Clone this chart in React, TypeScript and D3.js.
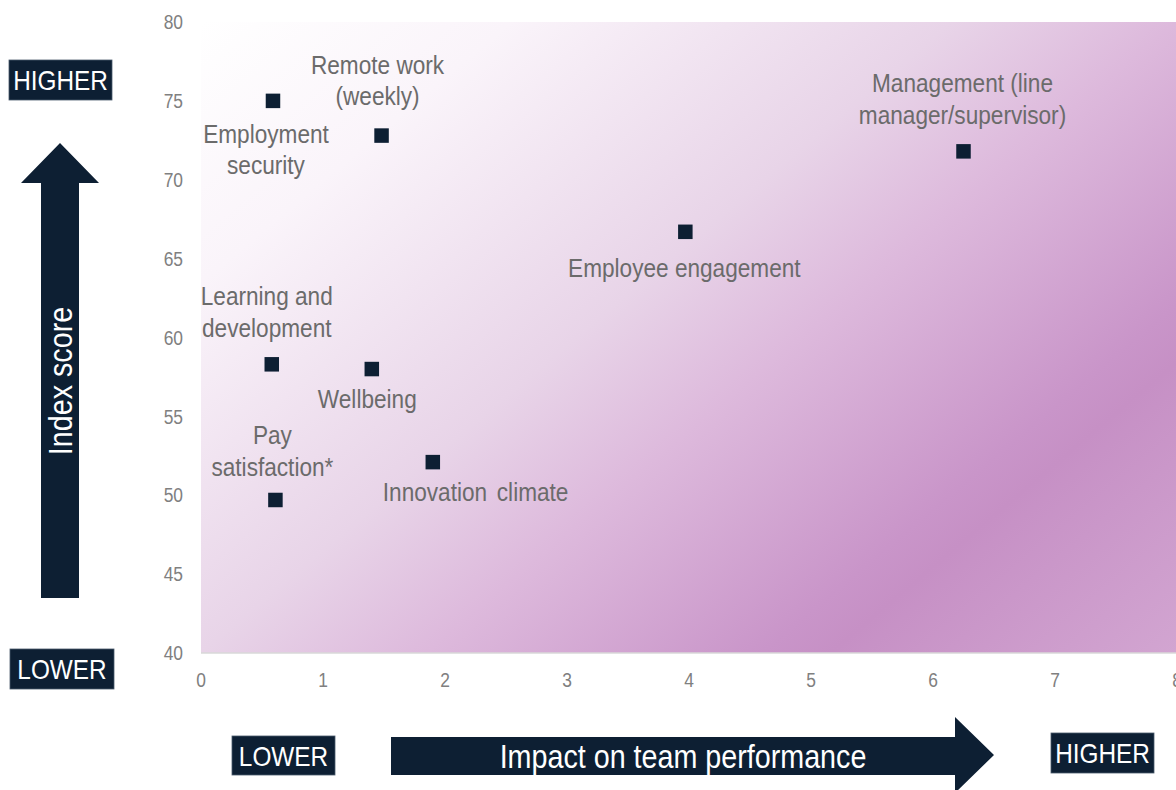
import React from 'react';
import * as d3 from 'd3';

// ---------- data ----------
const xTicks = [0, 1, 2, 3, 4, 5, 6, 7, 8];
const yTicks = [40, 45, 50, 55, 60, 65, 70, 75, 80];
const factors = [
  'Employment security',
  'Remote work (weekly)',
  'Management (line manager/supervisor)',
  'Employee engagement',
  'Learning and development',
  'Wellbeing',
  'Innovation climate',
  'Pay satisfaction*',
];
const impactOnTeam = [0.59, 1.48, 6.25, 3.97, 0.58, 1.4, 1.9, 0.61];
const indexScore = [75.0, 72.8, 71.8, 66.7, 58.3, 58.0, 52.1, 49.7];
const labelLines = [
  ['Employment', 'security'],
  ['Remote work', '(weekly)'],
  ['Management (line', 'manager/supervisor)'],
  ['Employee engagement'],
  ['Learning and', 'development'],
  ['Wellbeing'],
  ['Innovation', 'climate'],
  ['Pay', 'satisfaction*'],
];

// ---------- layout ----------
const W = 1176;
const H = 790;
const X0 = 201;
const X1 = 1177;
const Y0 = 653;
const Y1 = 22;
const SX = 0.87;
const NAVY = '#0d1f33';
const FONT = '"Liberation Sans", Arial, Helvetica, sans-serif';

// label offsets relative to point (dx, dy of first baseline)
const labelOffsets: [number, number][] = [
  [-7, 42],
  [-4, -62],
  [-1, -59],
  [-1, 45],
  [-5, -59],
  [-4.5, 39],
  [-50, 39],
  [-3, -55.5],
];

function T(props: {
  x: number;
  y: number;
  size: number;
  anchor?: string;
  fill: string;
  rotate?: number;
  children: React.ReactNode;
}) {
  const { x, y, size, anchor = 'middle', fill, rotate = 0, children } = props;
  return (
    <text
      transform={`translate(${x},${y}) rotate(${rotate}) scale(${SX},1)`}
      fontSize={size}
      fontFamily={FONT}
      textAnchor={anchor}
      fill={fill}
    >
      {children}
    </text>
  );
}

function Box({ x, y, w, h, label }: { x: number; y: number; w: number; h: number; label: string }) {
  return (
    <g>
      <rect x={x} y={y} width={w} height={h} fill={NAVY} stroke="#4a5a6c" strokeWidth={0.8} />
      <T x={x + w / 2} y={y + h / 2 + 10} size={28} fill="#ffffff">
        {label}
      </T>
    </g>
  );
}

export default function App() {
  const x = d3.scaleLinear().domain([0, 8]).range([X0, X1]);
  const y = d3.scaleLinear().domain([40, 80]).range([Y0, Y1]);
  const sq = 14.5;

  const gradStops: [number, string][] = [
    [0, '#ffffff'],
    [0.18, '#faf4fa'],
    [0.435, '#e8d4e8'],
    [0.565, '#ddb9dc'],
    [0.76, '#c995c9'],
    [0.8, '#c690c5'],
    [1, '#d2a5d1'],
  ];

  // vertical arrow
  const vArrow = d3.path();
  vArrow.moveTo(60, 143);
  vArrow.lineTo(99, 183);
  vArrow.lineTo(79, 183);
  vArrow.lineTo(79, 598);
  vArrow.lineTo(41, 598);
  vArrow.lineTo(41, 183);
  vArrow.lineTo(21, 183);
  vArrow.closePath();

  // horizontal arrow
  const hArrow = d3.path();
  hArrow.moveTo(391, 737);
  hArrow.lineTo(955, 737);
  hArrow.lineTo(955, 717);
  hArrow.lineTo(994, 755);
  hArrow.lineTo(955, 793);
  hArrow.lineTo(955, 775);
  hArrow.lineTo(391, 775);
  hArrow.closePath();

  return (
    <svg
      width={W}
      height={H}
      style={{ position: 'absolute', left: 0, top: 0, background: '#ffffff' }}
    >
      <defs>
        <linearGradient id="bg" gradientUnits="userSpaceOnUse" x1={X0} y1={Y1} x2={X0 + 714} y2={Y1 + 850}>
          {gradStops.map(([o, c], i) => (
            <stop key={i} offset={o} stopColor={c} />
          ))}
        </linearGradient>
      </defs>

      {/* plot background */}
      <rect x={X0} y={Y1} width={X1 - X0} height={Y0 - Y1} fill="url(#bg)" />
      <line x1={X0} x2={X1} y1={Y0} y2={Y0} stroke="#d9d9d9" strokeWidth={1.5} />

      {/* y ticks */}
      {yTicks.map((t) => (
        <T key={t} x={183} y={y(t) + 7.2} size={20} anchor="end" fill="#808080">
          {t}
        </T>
      ))}
      {/* x ticks */}
      {xTicks.map((t) => (
        <T key={t} x={x(t)} y={687} size={20} fill="#808080">
          {t}
        </T>
      ))}

      {/* points */}
      {factors.map((f, i) => (
        <rect
          key={f}
          x={x(impactOnTeam[i]) - sq / 2}
          y={y(indexScore[i]) - sq / 2}
          width={sq}
          height={sq}
          fill={NAVY}
        />
      ))}

      {/* labels */}
      {factors.map((f, i) => {
        const px = x(impactOnTeam[i]);
        const py = y(indexScore[i]);
        const [dx, dy] = labelOffsets[i];
        const lines = labelLines[i];
        if (f === 'Innovation climate') {
          return (
            <g key={f}>
              <T x={px + dx} y={py + dy} size={26} anchor="start" fill="#6b6b6b">
                {lines[0]}
              </T>
              <T x={px + 64} y={py + dy} size={26} anchor="start" fill="#6b6b6b">
                {lines[1]}
              </T>
            </g>
          );
        }
        return (
          <g key={f}>
            {lines.map((l, j) => (
              <T key={j} x={px + dx} y={py + dy + j * 31.5} size={26} fill="#6b6b6b">
                {l}
              </T>
            ))}
          </g>
        );
      })}

      {/* left axis decoration */}
      <Box x={9} y={60} w={103} h={40} label="HIGHER" />
      <Box x={10} y={649} w={104} h={40} label="LOWER" />
      <path d={vArrow.toString()} fill={NAVY} />
      <T x={60} y={381} size={33} fill="#ffffff" rotate={-90}>
        <tspan dy={11.8}>Index score</tspan>
      </T>

      {/* bottom axis decoration */}
      <Box x={232} y={736} w={103} h={39} label="LOWER" />
      <Box x={1051} y={733} w={103} h={40} label="HIGHER" />
      <path d={hArrow.toString()} fill={NAVY} />
      <T x={683} y={768} size={33} fill="#ffffff">
        Impact on team performance
      </T>
    </svg>
  );
}
